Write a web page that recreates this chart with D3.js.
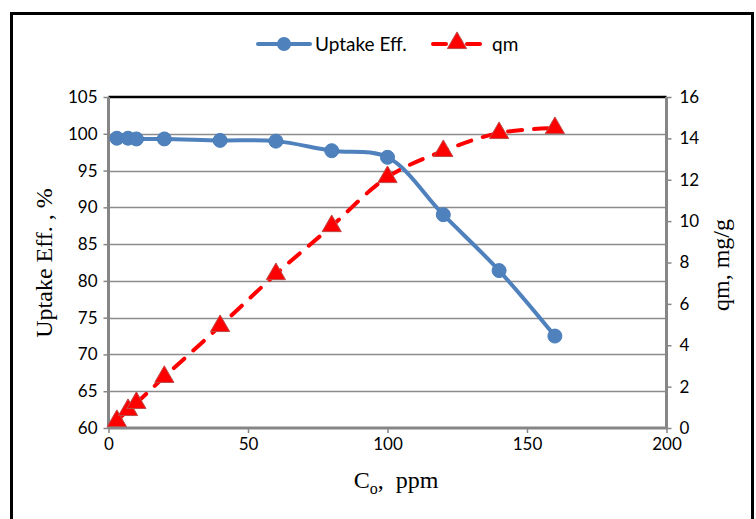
<!DOCTYPE html>
<html>
<head>
<meta charset="utf-8">
<script src="https://cdn.jsdelivr.net/npm/d3@7"></script>
<style>
  body { margin: 0; background: #fff; }
  svg { display: block; }
</style>
</head>
<body>
<div id="chart"></div>
<script>
// concentration, ppm
const co = [3, 7, 10, 20, 40, 60, 80, 100, 120, 140, 160];
// uptake efficiency, %
const uptake = [99.4, 99.4, 99.3, 99.3, 99.1, 99.0, 97.7, 96.8, 89.0, 81.4, 72.5];
// qm, mg/g
const qm = [0.34, 0.87, 1.21, 2.47, 4.93, 7.44, 9.76, 12.13, 13.39, 14.26, 14.5];

const xTicks = [0, 50, 100, 150, 200];
const yLeftTicks = [60, 65, 70, 75, 80, 85, 90, 95, 100, 105];
const yRightTicks = [0, 2, 4, 6, 8, 10, 12, 14, 16];

const W = 756, H = 519;
const plot = {left: 108.5, right: 666.5, top: 97, bottom: 428};

const svg = d3.select('#chart')
  .append('svg')
  .attr('width', W)
  .attr('height', H);

// outer frame (bottom edge falls outside the picture)
svg.append('path')
  .attr('d', 'M11.5,' + (H + 5) + 'V13.5H752.5V' + (H + 5))
  .attr('fill', 'none')
  .attr('stroke', '#000')
  .attr('stroke-width', 3);

const x = d3.scaleLinear().domain([0, 200]).range([plot.left, plot.right]);
const yL = d3.scaleLinear().domain([60, 105]).range([plot.bottom, plot.top]);
const yR = d3.scaleLinear().domain([0, 16]).range([plot.bottom, plot.top]);

const tickFont = 'Lato, "Open Sans", sans-serif';
const titleFont = '"Liberation Serif", "Times New Roman", serif';

// gridlines
svg.append('g')
  .selectAll('line')
  .data(yLeftTicks.slice(1, -1))
  .enter()
  .append('line')
  .attr('x1', plot.left)
  .attr('x2', plot.right)
  .attr('y1', d => Math.round(yL(d)) + 0.5)
  .attr('y2', d => Math.round(yL(d)) + 0.5)
  .attr('stroke', '#8c8c8c')
  .attr('stroke-width', 1.5);

// top border of the plot
svg.append('line')
  .attr('x1', plot.left)
  .attr('x2', plot.right)
  .attr('y1', plot.top)
  .attr('y2', plot.top)
  .attr('stroke', '#000')
  .attr('stroke-width', 2.5);

// axes
const axisColor = '#868686';

const gx = svg.append('g')
  .attr('transform', 'translate(0,' + plot.bottom + ')')
  .call(d3.axisBottom(x).tickValues(xTicks).tickSize(5).tickPadding(5));

const gl = svg.append('g')
  .attr('transform', 'translate(' + plot.left + ',0)')
  .call(d3.axisLeft(yL).tickValues(yLeftTicks).tickSize(5).tickPadding(6));

const gr = svg.append('g')
  .attr('transform', 'translate(' + plot.right + ',0)')
  .call(d3.axisRight(yR).tickValues(yRightTicks).tickSize(5).tickPadding(8));

[gx, gl, gr].forEach(g => {
  g.select('.domain').attr('stroke', axisColor).attr('stroke-width', 3);
  g.selectAll('.tick line').attr('stroke', axisColor).attr('stroke-width', 1.5);
  g.selectAll('.tick text')
    .attr('fill', '#000')
    .style('font-family', tickFont)
    .style('font-size', '17px');
});
gx.select('.domain').attr('d', 'M' + plot.left + ',0H' + plot.right);
gl.select('.domain').attr('d', 'M0,' + plot.top + 'V' + plot.bottom);
gr.select('.domain').attr('d', 'M0,' + plot.top + 'V' + plot.bottom);

// axis titles
const xt = svg.append('text')
  .attr('x', 396)
  .attr('y', 488)
  .attr('text-anchor', 'middle')
  .attr('xml:space', 'preserve')
  .style('white-space', 'pre')
  .style('font-family', titleFont)
  .style('font-size', '24px');
xt.append('tspan').text('C');
xt.append('tspan').attr('dy', 6).style('font-size', '16px').text('o');
xt.append('tspan').attr('dy', -6).text(',  ppm');

svg.append('text')
  .attr('transform', 'translate(52,263) rotate(-90)')
  .attr('text-anchor', 'middle')
  .style('font-family', titleFont)
  .style('font-size', '24px')
  .text('Uptake Eff. , %');

svg.append('text')
  .attr('transform', 'translate(729,265) rotate(-90)')
  .attr('text-anchor', 'middle')
  .style('font-family', titleFont)
  .style('font-size', '24px')
  .text('qm, mg/g');

// series
const blue = '#4f81bd';
const red = '#ff0000';

const lineU = d3.line()
  .x((d, i) => x(co[i]))
  .y(d => yL(d))
  .curve(d3.curveCatmullRom.alpha(0.5));

const lineQ = d3.line()
  .x((d, i) => x(co[i]))
  .y(d => yR(d))
  .curve(d3.curveCatmullRom.alpha(0.5));

svg.append('path')
  .datum(uptake)
  .attr('d', lineU)
  .attr('fill', 'none')
  .attr('stroke', blue)
  .attr('stroke-width', 4)
  .attr('stroke-linecap', 'round');

svg.append('g')
  .selectAll('circle')
  .data(uptake)
  .enter()
  .append('circle')
  .attr('cx', (d, i) => x(co[i]))
  .attr('cy', d => yL(d))
  .attr('r', 7)
  .attr('fill', blue)
  .attr('stroke', '#4a7ebb')
  .attr('stroke-width', 1);

svg.append('path')
  .datum(qm)
  .attr('d', lineQ)
  .attr('fill', 'none')
  .attr('stroke', red)
  .attr('stroke-width', 4)
  .attr('stroke-dasharray', '14 12')
  .attr('stroke-linecap', 'round');

const tri = d3.symbol().type(d3.symbolTriangle).size(160);

svg.append('g')
  .selectAll('path')
  .data(qm)
  .enter()
  .append('path')
  .attr('d', tri)
  .attr('transform', (d, i) => 'translate(' + x(co[i]) + ',' + yR(d) + ')')
  .attr('fill', red)
  .attr('stroke', '#be4b48')
  .attr('stroke-width', 1);

// legend
const lg = svg.append('g').attr('transform', 'translate(0,44)');
lg.append('line')
  .attr('x1', 258).attr('x2', 310)
  .attr('stroke', blue).attr('stroke-width', 4).attr('stroke-linecap', 'round');
lg.append('circle')
  .attr('cx', 284).attr('r', 7).attr('fill', blue);
lg.append('text')
  .attr('x', 315).attr('y', 7)
  .style('font-family', tickFont)
  .style('font-size', '19px')
  .text('Uptake Eff.');

lg.append('line')
  .attr('x1', 433).attr('x2', 446)
  .attr('stroke', red).attr('stroke-width', 4).attr('stroke-linecap', 'round');
lg.append('line')
  .attr('x1', 467).attr('x2', 480)
  .attr('stroke', red).attr('stroke-width', 4).attr('stroke-linecap', 'round');
lg.append('path')
  .attr('d', tri)
  .attr('transform', 'translate(457,-1)')
  .attr('fill', red)
  .attr('stroke', '#be4b48');
lg.append('text')
  .attr('x', 492).attr('y', 7)
  .style('font-family', tickFont)
  .style('font-size', '19px')
  .text('qm');
</script>
</body>
</html>
